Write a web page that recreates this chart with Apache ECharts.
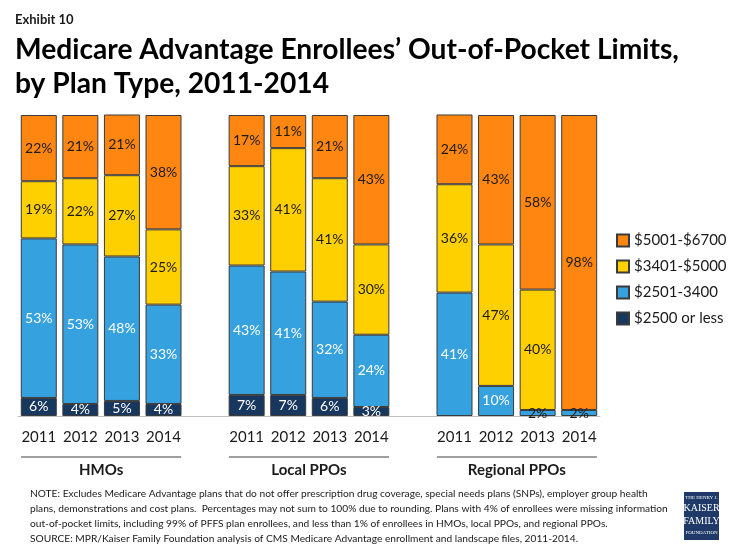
<!DOCTYPE html>
<html>
<head>
<meta charset="utf-8">
<script src="https://cdn.jsdelivr.net/npm/echarts@6/dist/echarts.min.js"></script>
<style>
html,body{margin:0;padding:0;background:#fff;}
#c{width:735px;height:551px;}
</style>
</head>
<body>
<div id="c"></div>
<script>
const years = ['2011', '2012', '2013', '2014'];
const groups = ['HMOs', 'Local PPOs', 'Regional PPOs'];
const seriesNames = ['$2500 or less', '$2501-3400', '$3401-$5000', '$5001-$6700'];
// values per group, in year order
const le2500   = [[6, 4, 5, 4], [7, 7, 6, 3], [0, 0, 0, 0]];
const s2501    = [[53, 53, 48, 33], [43, 41, 32, 24], [41, 10, 2, 2]];
const s3401    = [[19, 22, 27, 25], [33, 41, 41, 30], [36, 47, 40, 0]];
const s5001    = [[22, 21, 21, 38], [17, 11, 21, 43], [24, 43, 58, 98]];

const colors = ['#17375E', '#35A2DF', '#FFD000', '#FF8711'];
const labelColors = ['#ffffff', '#ffffff', '#1a1a1a', '#1a1a1a'];
const valueSets = [le2500, s2501, s3401, s5001];

// build category axis with a blank slot between groups
const cats = [];
groups.forEach((g, gi) => {
  if (gi > 0) cats.push('gap' + gi);
  years.forEach(y => cats.push(g + '|' + y));
});

function buildData(vals, si) {
  const out = [];
  vals.forEach((grp, gi) => {
    if (gi > 0) out.push('-');
    grp.forEach(v => {
      if (v === 0) {
        out.push('-');
      } else if (si === 1 && v < 5) {
        out.push({ value: v, label: { color: '#1a1a1a' } });
      } else {
        out.push(v);
      }
    });
  });
  return out;
}

const font = 'Lato, "Open Sans", sans-serif';

const chart = echarts.init(document.getElementById('c'), null, { renderer: 'canvas' });

const series = valueSets.map((vals, si) => ({
  name: seriesNames[si],
  type: 'bar',
  stack: 'total',
  barWidth: 36,
  data: buildData(vals, si),
  itemStyle: { color: colors[si], borderColor: '#3a3a3a', borderWidth: 1 },
  label: {
    show: true,
    position: 'inside',
    color: labelColors[si],
    fontSize: 14,
    fontFamily: font,
    formatter: p => (p.value ? p.value + '%' : '')
  },
  emphasis: { disabled: true },
  animation: false
}));

chart.setOption({
  animation: false,
  textStyle: { fontFamily: font },
  grid: { left: 18, right: 135, top: 115, bottom: 135, containLabel: false },
  legend: {
    data: seriesNames.slice().reverse(),
    orient: 'vertical',
    left: 611,
    top: 228,
    itemWidth: 12,
    itemHeight: 12,
    itemGap: 11,
    icon: 'rect',
    textStyle: { fontSize: 15, color: '#1a1a1a', fontFamily: font },
    selectedMode: false
  },
  xAxis: {
    type: 'category',
    data: cats,
    axisLine: { show: true, lineStyle: { color: '#bfbfbf', width: 1 } },
    axisTick: { show: false },
    axisLabel: {
      interval: 0,
      color: '#1a1a1a',
      fontSize: 15,
      fontFamily: font,
      margin: 14,
      formatter: v => (v.indexOf('|') >= 0 ? v.split('|')[1] : '')
    }
  },
  yAxis: {
    type: 'value',
    min: 0,
    max: 100,
    show: false,
    splitLine: { show: false }
  },
  series: series
});

// group captions and underlines, placed from axis positions
const graphics = [];
groups.forEach((g, gi) => {
  const x1 = chart.convertToPixel({ xAxisIndex: 0 }, g + '|' + years[0]);
  const x4 = chart.convertToPixel({ xAxisIndex: 0 }, g + '|' + years[years.length - 1]);
  const mid = (x1 + x4) / 2;
  graphics.push({
    type: 'line',
    shape: { x1: mid - 80, y1: 457, x2: mid + 80, y2: 457 },
    style: { stroke: '#404040', lineWidth: 1.2 }
  });
  graphics.push({
    type: 'text',
    x: mid,
    y: 470,
    style: { text: g, fontSize: 15, fontWeight: 'bold', fontFamily: font, fill: '#1a1a1a', align: 'center', verticalAlign: 'middle' }
  });
});

// titles
graphics.push({
  type: 'text', x: 15, y: 20,
  style: { text: 'Exhibit 10', fontSize: 13, fontWeight: 'bold', fontFamily: font, fill: '#1a1a1a', verticalAlign: 'middle' }
});
graphics.push({
  type: 'text', x: 15, y: 50,
  style: { text: 'Medicare Advantage Enrollees\u2019 Out-of-Pocket Limits,', fontSize: 28.2, fontWeight: 'bold', fontFamily: font, fill: '#000', verticalAlign: 'middle' }
});
graphics.push({
  type: 'text', x: 15, y: 84,
  style: { text: 'by Plan Type, 2011-2014', fontSize: 28.2, fontWeight: 'bold', fontFamily: font, fill: '#000', verticalAlign: 'middle' }
});

// footnotes
const notes = [
  'NOTE: Excludes Medicare Advantage plans that do not offer prescription drug coverage, special needs plans (SNPs), employer group health',
  'plans, demonstrations and cost plans.  Percentages may not sum to 100% due to rounding. Plans with 4% of enrollees were missing information',
  'out-of-pocket limits, including 99% of PFFS plan enrollees, and less than 1% of enrollees in HMOs, local PPOs, and regional PPOs.',
  'SOURCE: MPR/Kaiser Family Foundation analysis of CMS Medicare Advantage enrollment and landscape files, 2011-2014.'
];
notes.forEach((t, i) => {
  graphics.push({
    type: 'text', x: 30, y: 494 + i * 15,
    style: { text: t, fontSize: 10.2, fontFamily: font, fill: '#1a1a1a', verticalAlign: 'middle' }
  });
});

// logo
graphics.push({ type: 'rect', shape: { x: 684, y: 492, width: 35, height: 48 }, style: { fill: '#1F3A68' } });
graphics.push({ type: 'text', x: 701.5, y: 498, style: { text: 'THE HENRY J.', fontSize: 5, fontFamily: 'Liberation Serif, serif', fill: '#fff', align: 'center', verticalAlign: 'middle' } });
graphics.push({ type: 'text', x: 701.5, y: 508, style: { text: 'KAISER', fontSize: 10, fontFamily: 'Liberation Serif, serif', fill: '#fff', align: 'center', verticalAlign: 'middle' } });
graphics.push({ type: 'text', x: 701.5, y: 521, style: { text: 'FAMILY', fontSize: 10, fontFamily: 'Liberation Serif, serif', fill: '#fff', align: 'center', verticalAlign: 'middle' } });
graphics.push({ type: 'text', x: 701.5, y: 533, style: { text: 'FOUNDATION', fontSize: 5, fontFamily: 'Liberation Serif, serif', fill: '#fff', align: 'center', verticalAlign: 'middle' } });

chart.setOption({ graphic: graphics });
</script>
</body>
</html>
